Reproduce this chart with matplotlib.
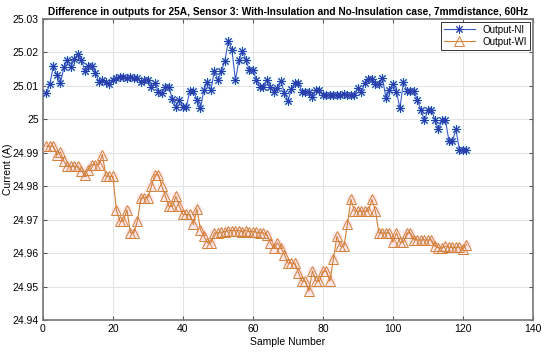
import matplotlib
matplotlib.use("Agg")
import matplotlib.pyplot as plt
from matplotlib.ticker import FuncFormatter

# sample numbers 1..121
samples = list(range(1, 122))

# Output-NI (no insulation)
output_ni = [
    25.0078, 25.0107, 25.0159, 25.0132, 25.0109, 25.0155, 25.0177, 25.0157, 25.0179, 25.0195,
    25.0177, 25.0145, 25.0159, 25.0160, 25.0139, 25.0112, 25.0119, 25.0112, 25.0107, 25.0119,
    25.0124, 25.0126, 25.0126, 25.0124, 25.0126, 25.0124, 25.0124, 25.0112, 25.0119, 25.0117,
    25.0098, 25.0109, 25.0083, 25.0080, 25.0098, 25.0098, 25.0060, 25.0038, 25.0058, 25.0038,
    25.0038, 25.0086, 25.0086, 25.0058, 25.0033, 25.0088, 25.0112, 25.0088, 25.0145, 25.0117,
    25.0145, 25.0175, 25.0235, 25.0207, 25.0117, 25.0177, 25.0205, 25.0177, 25.0147, 25.0147,
    25.0119, 25.0096, 25.0096, 25.0119, 25.0096, 25.0083, 25.0093, 25.0115, 25.0078, 25.0056,
    25.0090, 25.0109, 25.0109, 25.0082, 25.0082, 25.0082, 25.0067, 25.0087, 25.0087, 25.0073,
    25.0073, 25.0072, 25.0072, 25.0072, 25.0073, 25.0075, 25.0073, 25.0072, 25.0072, 25.0095,
    25.0082, 25.0109, 25.0122, 25.0122, 25.0105, 25.0105, 25.0125, 25.0063, 25.0087, 25.0106,
    25.0082, 25.0033, 25.0112, 25.0085, 25.0085, 25.0085, 25.0058, 25.0028, 24.9998, 25.0028,
    25.0028, 24.9998, 24.9970, 24.9998, 24.9998, 24.9936, 24.9936, 24.9970, 24.9908, 24.9908,
    24.9908,
]

# Output-WI (with insulation)
output_wi = [
    24.9920, 24.9920, 24.9920, 24.9895, 24.9902, 24.9875, 24.9860, 24.9860, 24.9860, 24.9860,
    24.9845, 24.9835, 24.9850, 24.9865, 24.9865, 24.9865, 24.9895, 24.9830, 24.9830, 24.9830,
    24.9729, 24.9696, 24.9696, 24.9730, 24.9661, 24.9661, 24.9696, 24.9766, 24.9766, 24.9766,
    24.9800, 24.9835, 24.9835, 24.9800, 24.9770, 24.9740, 24.9740, 24.9770, 24.9740, 24.9716,
    24.9716, 24.9716, 24.9686, 24.9733, 24.9671, 24.9651, 24.9631, 24.9631, 24.9661, 24.9661,
    24.9663, 24.9665, 24.9668, 24.9668, 24.9668, 24.9668, 24.9665, 24.9668, 24.9665, 24.9665,
    24.9663, 24.9661, 24.9661, 24.9655, 24.9631, 24.9616, 24.9631, 24.9616, 24.9596, 24.9571,
    24.9571, 24.9571, 24.9542, 24.9517, 24.9517, 24.9487, 24.9547, 24.9517, 24.9517, 24.9547,
    24.9547, 24.9517, 24.9584, 24.9651, 24.9621, 24.9621, 24.9686, 24.9761, 24.9726, 24.9726,
    24.9726, 24.9726, 24.9726, 24.9761, 24.9726, 24.9661, 24.9661, 24.9661, 24.9661, 24.9633,
    24.9661, 24.9633, 24.9633, 24.9661, 24.9661, 24.9640, 24.9640, 24.9640, 24.9640, 24.9640,
    24.9640, 24.9621, 24.9616, 24.9616, 24.9621, 24.9618, 24.9618, 24.9618, 24.9618, 24.9613,
    24.9626,
]

x_ticks = [0, 20, 40, 60, 80, 100, 120, 140]
y_ticks = [24.94, 24.95, 24.96, 24.97, 24.98, 24.99, 25.0, 25.01, 25.02, 25.03]

plt.rcParams['font.family'] = ['Liberation Sans', 'DejaVu Sans']

fig = plt.figure(figsize=(5.5, 3.57), dpi=100)
ax = fig.add_axes([0.078, 0.103, 0.891, 0.844])

blue = '#3b5bc8'
orange = '#d3803a'

# soft halos behind the markers (as seen in the reference image)
ax.plot(samples, output_ni, ls='none', marker='o', ms=7, mfc='#d6f7fb',
        mec='none', zorder=2)
ax.plot(samples, output_wi, ls='none', marker='o', ms=7, mfc='#fde6ea',
        mec='none', zorder=2)

ax.plot(samples, output_ni, color=blue, lw=0.8, marker=(8, 2, 0), ms=6,
        mfc='none', mec='#2a3fae', mew=0.7, label='Output-NI', zorder=3)
ax.plot(samples, output_wi, color=orange, lw=0.8, marker='^', ms=6.5,
        mfc='none', mec=orange, mew=0.7, label='Output-WI', zorder=3)

ax.set_xlim(0, 140)
ax.set_ylim(24.94, 25.03)
ax.set_xticks(x_ticks)
ax.set_yticks(y_ticks)
ax.yaxis.set_major_formatter(FuncFormatter(lambda v, p: '%g' % round(v, 2)))

ax.grid(True, color='#e3e3e3', lw=0.7)
ax.set_axisbelow(True)
ax.tick_params(direction='in', top=True, right=True, labelsize=7.5,
               length=3, color='#555555', pad=3)
for s in ax.spines.values():
    s.set_color('#777777')
    s.set_linewidth(1.2)

ax.set_xlabel('Sample Number', fontsize=7.5, labelpad=2)
ax.set_ylabel('Current (A)', fontsize=7.5, labelpad=2)
ax.yaxis.set_label_coords(-0.06, 0.5)
ax.set_title('Difference in outputs for 25A, Sensor 3: With-Insulation and No-Insulation case, 7mmdistance, 60Hz',
             fontsize=7.3, fontweight='bold', pad=3)

leg = ax.legend(loc='upper right', fontsize=7, fancybox=False, framealpha=1,
                edgecolor='#333333', borderpad=0.3, handlelength=3.2,
                labelspacing=0.2, borderaxespad=0.3)
leg.get_frame().set_linewidth(0.7)

fig.savefig('out.png', dpi=100)
